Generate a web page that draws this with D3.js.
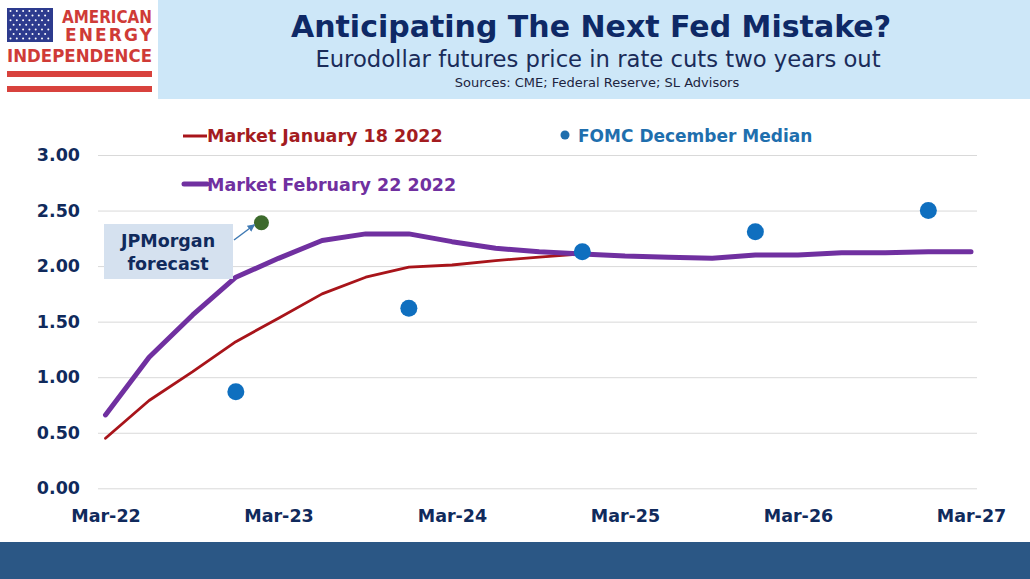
<!DOCTYPE html>
<html>
<head>
<meta charset="utf-8">
<title>Anticipating The Next Fed Mistake?</title>
<script src="https://d3js.org/d3.v7.min.js"></script>
<style>
  html, body { margin: 0; padding: 0; background: #fff; }
  svg { display: block; }
  text { font-family: "DejaVu Sans", Verdana, sans-serif; }
</style>
</head>
<body>
<div id="chart"></div>
<script>
// quarterly settlement months, Mar-22 .. Mar-27
const quarters = ["2022-03", "2022-06", "2022-09", "2022-12", "2023-03", "2023-06", "2023-09", "2023-12",
  "2024-03", "2024-06", "2024-09", "2024-12", "2025-03", "2025-06", "2025-09", "2025-12",
  "2026-03", "2026-06", "2026-09", "2026-12", "2027-03"];
const marketJan = [0.45, 0.79, 1.05, 1.32, 1.53, 1.75, 1.90, 1.99, 2.01, 2.05, 2.08, 2.11,
  2.09, 2.08, 2.07, 2.10, 2.10, 2.12, 2.12, 2.13, 2.13];
const marketFeb = [0.66, 1.18, 1.56, 1.90, 2.07, 2.23, 2.29, 2.29, 2.22, 2.16, 2.13, 2.11,
  2.09, 2.08, 2.07, 2.10, 2.10, 2.12, 2.12, 2.13, 2.13];
const fomcDates = ["2022-12", "2023-12", "2024-12", "2025-12", "2026-12"];
const fomcMedian = [0.87, 1.62, 2.13, 2.31, 2.50];
const jpmDate = "2023-01-24";
const jpmValue = 2.39;
const yTicks = [0, 0.5, 1, 1.5, 2, 2.5, 3];
const xTicks = ["2022-03", "2023-03", "2024-03", "2025-03", "2026-03", "2027-03"];

const W = 1030, H = 579;
const navy = "#102a5c";
const parse = d3.timeParse("%Y-%m");
const parseDay = d3.timeParse("%Y-%m-%d");

const svg = d3.select("#chart").append("svg")
  .attr("width", W).attr("height", H);

// header band
svg.append("rect").attr("x", 158).attr("y", 0).attr("width", W - 158).attr("height", 99)
  .attr("fill", "#cde7f8");

svg.append("text").attr("x", 591).attr("y", 37).attr("text-anchor", "middle")
  .attr("font-size", 30).attr("font-weight", "bold").attr("fill", "#0e2966")
  .text("Anticipating The Next Fed Mistake?");
svg.append("text").attr("x", 598).attr("y", 67).attr("text-anchor", "middle")
  .attr("font-size", 22.7).attr("fill", "#1a2c5a")
  .text("Eurodollar futures price in rate cuts two years out");
svg.append("text").attr("x", 597).attr("y", 87).attr("text-anchor", "middle")
  .attr("font-size", 13).attr("fill", "#1c2440")
  .text("Sources: CME; Federal Reserve; SL Advisors");

// logo
const logo = svg.append("g");
logo.append("rect").attr("x", 7).attr("y", 8).attr("width", 46).attr("height", 34).attr("fill", "#2d3b8e");
for (let r = 0; r < 7; r++) {
  for (let c = 0; c < (r % 2 ? 6 : 7); c++) {
    logo.append("circle")
      .attr("cx", 10.5 + c * 6.3 + (r % 2 ? 3.1 : 0))
      .attr("cy", 11 + r * 4.6)
      .attr("r", 1).attr("fill", "#fff");
  }
}
const logoRed = "#cf3b37";
logo.append("text").attr("x", 62).attr("y", 23).attr("font-size", 17).attr("font-weight", "bold")
  .attr("fill", logoRed).attr("textLength", 90).attr("lengthAdjust", "spacingAndGlyphs").text("AMERICAN");
logo.append("text").attr("x", 65).attr("y", 41).attr("font-size", 17).attr("font-weight", "bold")
  .attr("fill", logoRed).attr("textLength", 87).attr("lengthAdjust", "spacing").text("ENERGY");
logo.append("text").attr("x", 7).attr("y", 62).attr("font-size", 17).attr("font-weight", "bold")
  .attr("fill", logoRed).attr("textLength", 145).attr("lengthAdjust", "spacingAndGlyphs").text("INDEPENDENCE");
logo.append("rect").attr("x", 7).attr("y", 71).attr("width", 145).attr("height", 6).attr("fill", "#d8423d");
logo.append("rect").attr("x", 7).attr("y", 86).attr("width", 145).attr("height", 6).attr("fill", "#d8423d");

// bottom band
svg.append("rect").attr("x", 0).attr("y", 542).attr("width", W).attr("height", H - 542)
  .attr("fill", "#2b5785");

// scales
const x = d3.scaleTime()
  .domain([parse("2022-03"), parse("2027-03")])
  .range([105.5, 971]);
const y = d3.scaleLinear()
  .domain([0, 3])
  .range([488.3, 155]);

// y axis + gridlines
const gridLeft = 98, gridRight = 977;
const yAxis = svg.append("g")
  .attr("transform", `translate(${gridLeft},0)`)
  .call(d3.axisLeft(y).tickValues(yTicks).tickFormat(d3.format(".2f"))
    .tickSize(-(gridRight - gridLeft)).tickPadding(18));
yAxis.select(".domain").remove();
yAxis.selectAll("line").attr("stroke", "#d9d9d9").attr("stroke-width", 1);
yAxis.selectAll("text").attr("font-size", 17.5).attr("font-weight", "bold")
  .attr("fill", navy).attr("font-family", "DejaVu Sans");

// x axis
const xAxis = svg.append("g")
  .attr("transform", `translate(0,${y(0)})`)
  .call(d3.axisBottom(x).tickValues(xTicks.map(parse)).tickFormat(d3.timeFormat("%b-%y"))
    .tickSize(0).tickPadding(21));
xAxis.select(".domain").remove();
xAxis.selectAll("text").attr("font-size", 17.5).attr("font-weight", "bold")
  .attr("fill", navy).attr("font-family", "DejaVu Sans");

// lines
const line = d3.line()
  .x(d => x(d.date))
  .y(d => y(d.value));

const janData = quarters.map((q, i) => ({ date: parse(q), value: marketJan[i] }));
const febData = quarters.map((q, i) => ({ date: parse(q), value: marketFeb[i] }));

svg.append("path").datum(janData)
  .attr("d", line).attr("fill", "none")
  .attr("stroke", "#a8141a").attr("stroke-width", 2.8)
  .attr("stroke-linejoin", "round").attr("stroke-linecap", "round");
svg.append("path").datum(febData)
  .attr("d", line).attr("fill", "none")
  .attr("stroke", "#7030a0").attr("stroke-width", 5)
  .attr("stroke-linejoin", "round").attr("stroke-linecap", "round");

// FOMC dots
svg.selectAll(".fomc")
  .data(fomcDates.map((d, i) => ({ date: parse(d), value: fomcMedian[i] })))
  .join("circle")
  .attr("class", "fomc")
  .attr("cx", d => x(d.date)).attr("cy", d => y(d.value))
  .attr("r", 8.5).attr("fill", "#0f6fbf");

// JPMorgan dot + callout
svg.append("circle")
  .attr("cx", x(parseDay(jpmDate))).attr("cy", y(jpmValue))
  .attr("r", 7.5).attr("fill", "#3c6a2c");

svg.append("defs").append("marker")
  .attr("id", "arrow").attr("viewBox", "0 0 10 10")
  .attr("refX", 9).attr("refY", 5)
  .attr("markerWidth", 5).attr("markerHeight", 5)
  .attr("orient", "auto")
  .append("path").attr("d", "M0,0L10,5L0,10z").attr("fill", "#3f7ab4");

svg.append("rect").attr("x", 104).attr("y", 224).attr("width", 129).attr("height", 55)
  .attr("fill", "#d5e1ef");
svg.append("text").attr("x", 168).attr("y", 247).attr("text-anchor", "middle")
  .attr("font-size", 17.5).attr("font-weight", "bold").attr("fill", navy).text("JPMorgan");
svg.append("text").attr("x", 168).attr("y", 270).attr("text-anchor", "middle")
  .attr("font-size", 17.5).attr("font-weight", "bold").attr("fill", navy).text("forecast");
svg.append("line")
  .attr("x1", 234).attr("y1", 240).attr("x2", x(parseDay(jpmDate)) - 7).attr("y2", y(jpmValue) + 2)
  .attr("stroke", "#3f7ab4").attr("stroke-width", 1.5)
  .attr("marker-end", "url(#arrow)");

// legend
const legend = svg.append("g");
legend.append("line").attr("x1", 183).attr("x2", 207).attr("y1", 136).attr("y2", 136)
  .attr("stroke", "#a8141a").attr("stroke-width", 3);
legend.append("text").attr("x", 207).attr("y", 142)
  .attr("font-size", 17.5).attr("font-weight", "bold").attr("fill", "#a31c1f")
  .text("Market January 18 2022");
legend.append("line").attr("x1", 184).attr("x2", 207).attr("y1", 184).attr("y2", 184)
  .attr("stroke", "#7030a0").attr("stroke-width", 5).attr("stroke-linecap", "round");
legend.append("text").attr("x", 207).attr("y", 191)
  .attr("font-size", 17.5).attr("font-weight", "bold").attr("fill", "#7030a0")
  .text("Market February 22 2022");
legend.append("circle").attr("cx", 565).attr("cy", 135).attr("r", 4.5).attr("fill", "#1f6fae");
legend.append("text").attr("x", 578).attr("y", 142)
  .attr("font-size", 17).attr("font-weight", "bold").attr("fill", "#1f6fae")
  .text("FOMC December Median");
</script>
</body>
</html>
